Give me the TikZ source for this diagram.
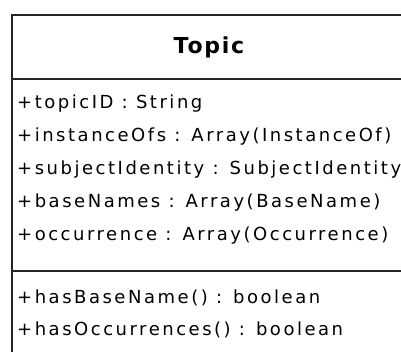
\documentclass[tikz,border=0pt]{standalone}
\usepackage{fontspec}
\setmainfont{DejaVu Sans}
\newfontfamily\memberfont{DejaVu Sans}[LetterSpace=14]
\newfontfamily\namefont{DejaVu Sans}[LetterSpace=8]
\begin{document}
\begin{tikzpicture}[x=1pt,y=-1pt,
  boxline/.style={line width=2pt,draw=black!85},
  member/.style={anchor=west,inner sep=0pt,font=\memberfont\fontsize{18}{21}\selectfont},
  classname/.style={inner sep=0pt,font=\namefont\fontsize{22}{26}\selectfont\bfseries}]
\useasboundingbox (0,0) rectangle (401,352);
% class box, running off the right and bottom edges
\draw[boxline] (420,15) -- (12,15) -- (12,360);
\draw[boxline] (12,79) -- (420,79);
\draw[boxline] (12,271) -- (420,271);
% class name
\node[classname] (name) at (209,47) {Topic};
% attributes
\node[member] (a1) at (17,104) {+topicID : String};
\node[member] (a2) at (17,137) {+instanceOfs : Array(InstanceOf)};
\node[member] (a3) at (17,170) {+subjectIdentity : SubjectIdentity};
\node[member] (a4) at (17,203) {+baseNames : Array(BaseName)};
\node[member] (a5) at (17,236) {+occurrence : Array(Occurrence)};
% operations
\node[member] (m1) at (17,298) {+hasBaseName() : boolean};
\node[member] (m2) at (17,330) {+hasOccurrences() : boolean};
\end{tikzpicture}
\end{document}
